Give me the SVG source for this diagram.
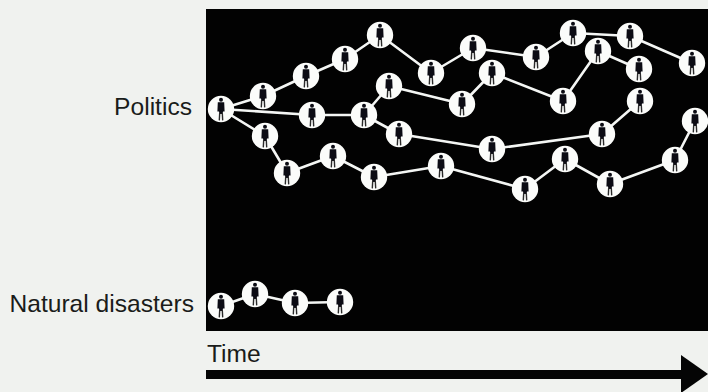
<svg xmlns="http://www.w3.org/2000/svg" width="708" height="392" viewBox="0 0 708 392">
<style>
.lbl{font-family:"Liberation Sans",Arial,sans-serif;font-size:24.6px;fill:#1a1c1a}
.c{fill:none;stroke:#f4f6f4;stroke-width:2.6;stroke-linejoin:round}
.d{fill:#fbfcfa}
.p{fill:#0c0c14}
.l{fill:none;stroke:#2a2a2a;stroke-width:1.4}
</style>
<defs>
<g id="n">
<circle class="d" r="13.2"/>
<circle class="p" cx="0" cy="-9.2" r="2"/>
<path class="p" d="M-3.2-6.8H3.2L3.6 2.5H2L1.6 5H-1.6L-2 2.5H-3.6Z"/>
<path class="l" d="M-1.3 4L-1.7 11.4M1.3 4L1.7 11.4"/>
</g>
</defs>
<rect width="708" height="392" fill="#f0f2ef"/>
<rect x="206" y="9" width="502" height="322" fill="#020202"/>
<text class="lbl" x="192" y="115" text-anchor="end">Politics</text>
<text class="lbl" x="194" y="312" text-anchor="end">Natural disasters</text>
<text class="lbl" x="207" y="362">Time</text>
<g id="time-arrow" fill="#050505">
<rect x="206" y="370" width="478" height="9"/>
<path d="M681 355L708 374L681 393Z"/>
</g>
<g id="connectors">
<polyline class="c" points="221,109 263,96 306,76 345,59 380,35 431,73 473,48 536,57 573,33 630,36 692,63"/>
<polyline class="c" points="221,109 312,115 364,115 389,86 462,104 492,73 563,101 598,51 639,69"/>
<polyline class="c" points="364,115 399,134 492,149 602,134 640,101"/>
<polyline class="c" points="221,109 265,136 287,173 333,156 374,177 441,166 525,189 565,159 610,184 675,160 695,121"/>
<polyline class="c" points="221,306 255,294 295,303 340,302"/>
</g>
<g id="politics-root"><use href="#n" x="221" y="109"/></g>
<g id="n1"><use href="#n" x="263" y="96"/></g>
<g id="n2"><use href="#n" x="306" y="76"/></g>
<g id="n3"><use href="#n" x="345" y="59"/></g>
<g id="n4"><use href="#n" x="380" y="35"/></g>
<g id="n5"><use href="#n" x="431" y="73"/></g>
<g id="n6"><use href="#n" x="473" y="48"/></g>
<g id="n7"><use href="#n" x="536" y="57"/></g>
<g id="n8"><use href="#n" x="573" y="33"/></g>
<g id="n9"><use href="#n" x="630" y="36"/></g>
<g id="n10"><use href="#n" x="692" y="63"/></g>
<g id="n11"><use href="#n" x="312" y="115"/></g>
<g id="n12"><use href="#n" x="364" y="115"/></g>
<g id="n13"><use href="#n" x="389" y="86"/></g>
<g id="n14"><use href="#n" x="462" y="104"/></g>
<g id="n15"><use href="#n" x="492" y="73"/></g>
<g id="n16"><use href="#n" x="563" y="101"/></g>
<g id="n17"><use href="#n" x="598" y="51"/></g>
<g id="n18"><use href="#n" x="639" y="69"/></g>
<g id="n19"><use href="#n" x="399" y="134"/></g>
<g id="n20"><use href="#n" x="492" y="149"/></g>
<g id="n21"><use href="#n" x="602" y="134"/></g>
<g id="n22"><use href="#n" x="640" y="101"/></g>
<g id="n23"><use href="#n" x="265" y="136"/></g>
<g id="n24"><use href="#n" x="287" y="173"/></g>
<g id="n25"><use href="#n" x="333" y="156"/></g>
<g id="n26"><use href="#n" x="374" y="177"/></g>
<g id="n27"><use href="#n" x="441" y="166"/></g>
<g id="n28"><use href="#n" x="525" y="189"/></g>
<g id="n29"><use href="#n" x="565" y="159"/></g>
<g id="n30"><use href="#n" x="610" y="184"/></g>
<g id="n31"><use href="#n" x="675" y="160"/></g>
<g id="n32"><use href="#n" x="695" y="121"/></g>
<g id="disaster-1"><use href="#n" x="221" y="306"/></g>
<g id="disaster-2"><use href="#n" x="255" y="294"/></g>
<g id="disaster-3"><use href="#n" x="295" y="303"/></g>
<g id="disaster-4"><use href="#n" x="340" y="302"/></g>
</svg>
